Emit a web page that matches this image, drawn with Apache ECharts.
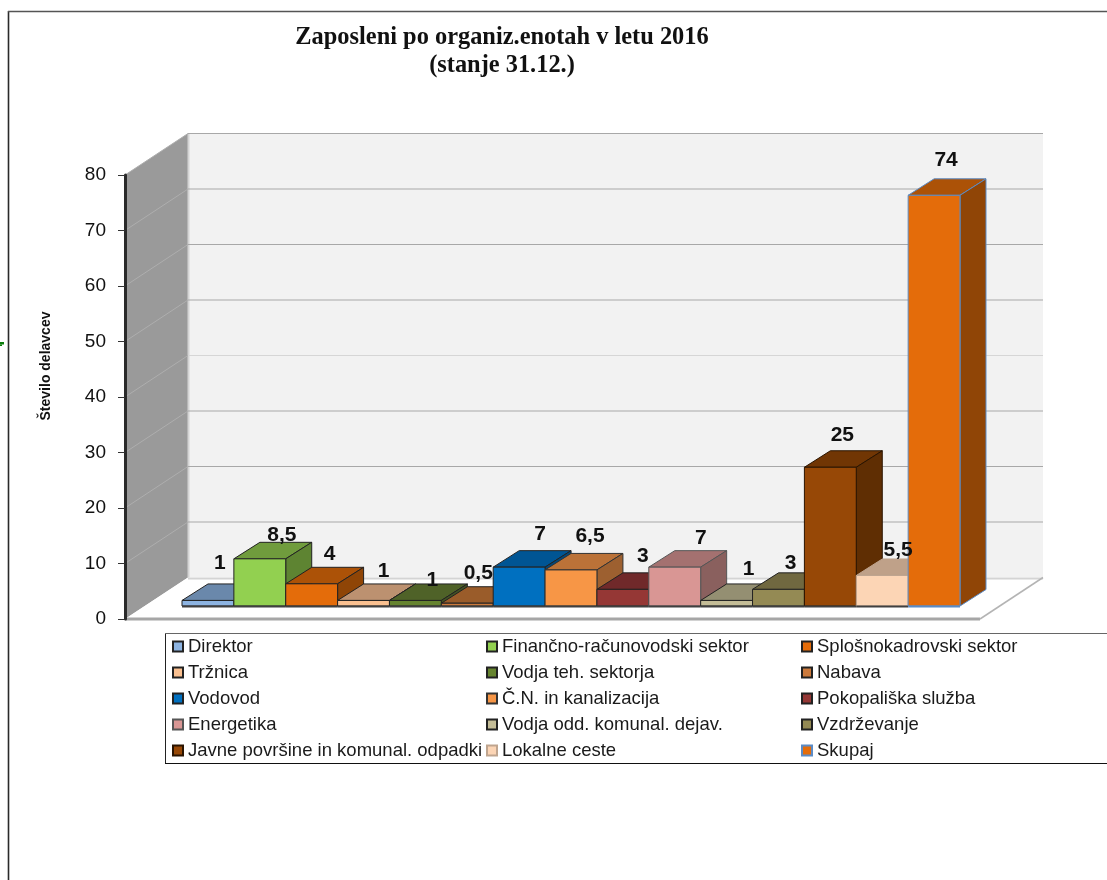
<!DOCTYPE html>
<html>
<head>
<meta charset="utf-8">
<style>html,body{margin:0;padding:0;background:#fff}#c{width:1107px;height:880px}</style>
<script src="https://cdn.jsdelivr.net/npm/echarts@6/dist/echarts.min.js"></script>
</head>
<body>
<div id="c"></div>
<script>
const categories = ['Direktor','Finančno-računovodski sektor','Splošnokadrovski sektor','Tržnica','Vodja teh. sektorja','Nabava','Vodovod','Č.N. in kanalizacija','Pokopališka služba','Energetika','Vodja odd. komunal. dejav.','Vzdrževanje','Javne površine in komunal. odpadki','Lokalne ceste','Skupaj'];
const values = [1,8.5,4,1,1,0.5,7,6.5,3,7,1,3,25,5.5,74];
const yTicks = [0,10,20,30,40,50,60,70,80];
const titleLines = ['Zaposleni po organiz.enotah v letu 2016','(stanje 31.12.)'];
const axisName = 'Število delavcev';

const frontColors = ['#8db4e2','#92d050','#e46c0a','#fac090','#66842f','#cc7a3c','#0070c0','#f79646','#953735','#d99694','#c4bd97','#948a54','#974806','#fcd5b5','#e46c0a'];
const topColors   = ['#6a88ab','#709c3d','#ac5207','#bc9170','#4f6228','#9a5c2a','#005594','#bb7238','#70292a','#a47170','#948f72','#706840','#713604','#bfa189','#ac5207'];
const sideColors  = ['#5d7796','#5e8432','#8f4506','#a07b5e','#435322','#7f4c22','#00487c','#9d6030','#5e2323','#8a605e','#7d7960','#5f5836','#5f2e03','#a1887a','#904506'];
const edgeColors  = ['#222','#222','#222','#222','#222','#222','#222','#333','#222','#555','#222','#222','#2a1400','#bfa58f','#5b8bc5'];
// label placement relative to the centre of each bar's front top edge
const labelNudge = [[12,-37],[22,-24],[18,-30],[20,-29],[17,-20],[11,-30],[21,-33],[19,-34],[20,-33],[26,-29],[22,-31],[12,-26],[12,-32],[16,-25],[12,-35]];

const SANS = '"Liberation Sans", Arial, sans-serif';
const axisShift = 57;          // value axis stands this far left of the bars
const wallDepth = [63,-41.5];  // receding vector of walls and floor
const barDepth = [26,-16.5];   // receding vector of a bar
const barLift = 13;            // bars stand this far back on the floor
const floorExtra = 20;         // floor runs on past the last bar

function poly(points, fill, stroke, lw){
  return {type:'polygon', shape:{points}, style:{fill, stroke:stroke||null, lineWidth:lw||0}};
}
function seg(a,b,stroke,lw,z2){
  return {type:'line', shape:{x1:a[0],y1:a[1],x2:b[0],y2:b[1]}, style:{stroke,lineWidth:lw}, z2:z2||0};
}

const wallSeries = {
  type:'custom', name:'walls', silent:true, data:[[0,0]], z:1,
  renderItem(params, api){
    const cs = params.coordSys;
    const L = cs.x - axisShift, R = cs.x + cs.width + floorExtra;
    const y0 = api.coord([0,0])[1], y80 = api.coord([0,80])[1];
    const dx = wallDepth[0], dy = wallDepth[1];
    return {type:'group', children:[
      poly([[L,y80],[L+dx,y80+dy],[L+dx,y0+dy],[L,y0]],'#9a9a9a'),
      poly([[L+dx,y80+dy],[R+dx,y80+dy],[R+dx,y0+dy],[L+dx,y0+dy]],'#f2f2f2'),
      poly([[L,y0],[L+dx,y0+dy],[R+dx,y0+dy],[R,y0]],'#ffffff'),
      seg([L+dx+0.5,y80+dy],[L+dx+0.5,y0+dy],'#d4d4d4',2),
      seg([L+dx,y0+dy+1],[R+dx,y0+dy+1],'#d4d4d4',2),
      seg([L,y0],[R,y0],'#a6a6a6',3),
      seg([R,y0],[R+dx,y0+dy],'#b4b4b4',1.5)
    ]};
  }
};
const gridSeries = {
  type:'custom', name:'gridlines', silent:true, z:2,
  data:yTicks.filter(v=>v>0).map(v=>[0,v]),
  renderItem(params, api){
    const cs = params.coordSys;
    const L = cs.x - axisShift, R = cs.x + cs.width + floorExtra;
    const y = api.coord([0,api.value(1)])[1];
    const dx = wallDepth[0], dy = wallDepth[1];
    const light = api.value(1) === 40;
    return {type:'group', children:[
      seg([L,y],[L+dx,y+dy],'#aeaeae',1),
      seg([L+dx,y+dy],[R+dx,y+dy], light ? '#d6d6d6' : '#a8a8a8', 1.2)
    ]};
  }
};
const barSeries = categories.map((name,i)=>({
  type:'custom', name, z:3,
  itemStyle:{color:frontColors[i], borderColor:edgeColors[i], borderWidth:1},
  data:[[i,values[i]]],
  renderItem(params, api){
    const c = api.coord([api.value(0),0]);
    const w = api.size([1,0])[0];
    const y0 = c[1]-barLift;
    const y1 = api.coord([api.value(0),api.value(1)])[1]-barLift;
    const l = c[0]-w/2, r = c[0]+w/2;
    const dx = barDepth[0], dy = barDepth[1];
    const e = edgeColors[i];
    return {type:'group', children:[
      poly([[l,y1],[l+dx,y1+dy],[r+dx,y1+dy],[r,y1]],topColors[i],e,1),
      poly([[r,y1],[r+dx,y1+dy],[r+dx,y0+dy],[r,y0]],sideColors[i],e,1),
      poly([[l,y1],[r,y1],[r,y0],[l,y0]],frontColors[i],e,1),
      seg([l,y0+0.5],[r,y0+0.5],i===14?e:'#404040',2)
    ]};
  }
}));
const labelSeries = {
  type:'custom', name:'labels', silent:true, z:5,
  data:values.map((v,i)=>[i,v]),
  renderItem(params, api){
    const i = api.value(0), v = api.value(1);
    const p = api.coord([i,v]);
    return {type:'text', style:{
      text:String(v).replace('.',','),
      x:p[0]+labelNudge[i][0], y:p[1]-barLift+labelNudge[i][1],
      align:'center', verticalAlign:'middle',
      fontFamily:SANS, fontWeight:'bold', fontSize:21, fill:'#111'
    }};
  }
};
function legendColumn(left, start){
  return {
    left, top:637, orient:'vertical', selectedMode:false, icon:'rect', padding:0,
    itemWidth:10, itemHeight:10, itemGap:7,
    textStyle:{fontFamily:SANS, fontSize:18.5, color:'#1a1a1a', lineHeight:16},
    data:[0,1,2,3,4].map(r=>categories[start+r*3])
  };
}
const chart = echarts.init(document.getElementById('c'), null, {renderer:'canvas'});
chart.setOption({
  animation:false,
  backgroundColor:'#ffffff',
  title:{
    text:titleLines.join('\n'), left:497, top:19, textAlign:'center',
    textStyle:{fontFamily:'"Liberation Serif", serif', fontWeight:'bold', fontSize:24.4, lineHeight:28, color:'#111'}
  },
  grid:{left:182, width:778, top:175, height:444},
  xAxis:{type:'category', data:categories, show:false},
  yAxis:{
    type:'value', min:0, max:80, interval:10, offset:axisShift, z:10,
    name:axisName, nameLocation:'middle', nameRotate:90, nameGap:72,
    nameTextStyle:{fontFamily:SANS, fontWeight:'bold', fontSize:14, color:'#111', padding:[0,0,0,62]},
    axisLine:{show:true, lineStyle:{color:'#2a2a2a', width:3}},
    axisTick:{show:true, length:7, lineStyle:{color:'#333', width:1}},
    axisLabel:{fontFamily:SANS, fontSize:19, color:'#111', margin:19},
    splitLine:{show:false}
  },
  legend:[legendColumn(172,0), legendColumn(486,1), legendColumn(801,2)],
  graphic:[
    {type:'line', shape:{x1:165.5,y1:633,x2:165.5,y2:763.5}, style:{stroke:'#222',lineWidth:1}, silent:true},
    {type:'line', shape:{x1:165,y1:633.5,x2:1107,y2:633.5}, style:{stroke:'#666',lineWidth:1.2}, silent:true},
    {type:'line', shape:{x1:165,y1:763.5,x2:1107,y2:763.5}, style:{stroke:'#111',lineWidth:1.2}, silent:true},
    {type:'line', shape:{x1:8.5,y1:11,x2:8.5,y2:880}, style:{stroke:'#2a2a2a',lineWidth:1.6}, silent:true},
    {type:'line', shape:{x1:8,y1:11.5,x2:1107,y2:11.5}, style:{stroke:'#555',lineWidth:1.4}, silent:true},
    {type:'rect', shape:{x:0,y:342,width:4,height:2.5}, style:{fill:'#0a7d0a'}, silent:true},
    {type:'rect', shape:{x:0,y:344.5,width:2,height:1.5}, style:{fill:'#0a7d0a'}, silent:true}
  ],
  series:[wallSeries, gridSeries, ...barSeries, labelSeries]
});
</script>
</body>
</html>
